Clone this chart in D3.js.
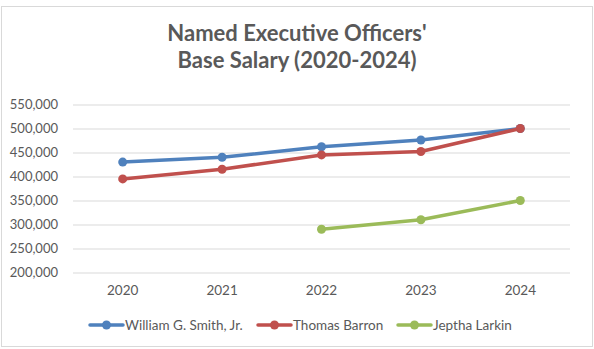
<!DOCTYPE html>
<html><head><meta charset="utf-8">
<script src="https://cdn.jsdelivr.net/npm/d3@7"></script>
<style>
html,body{margin:0;padding:0;background:#fff;}
text{font-family:Lato,"Open Sans",sans-serif;fill:#595959;}
</style></head>
<body><svg id="c" width="594" height="349"></svg>
<script>
const years = ["2020","2021","2022","2023","2024"];
const seriesNames = ["William G. Smith, Jr.","Thomas Barron","Jeptha Larkin"];
const smith = [430000,440000,462000,476000,500000];
const barron = [395000,415000,445000,452000,500000];
const larkin = [null,null,290000,310000,350000];
const colors = ["#4F81BD","#C0504D","#9BBB59"];
const yTicks = [200000,250000,300000,350000,400000,450000,500000,550000];
const titleLines = ["Named Executive Officers'","Base Salary (2020-2024)"];

const svg = d3.select("#c");
svg.append("rect").attr("x",1.5).attr("y",6.5).attr("width",591).attr("height",340)
  .attr("fill","#fff").attr("stroke","#d9d9d9").attr("stroke-width",1);

const x = d3.scaleBand().domain(years).range([73,570]);
const y = d3.scaleLinear().domain([200000,550000]).range([272.5,104.5]);

// title
svg.append("text").attr("x",297).attr("y",40.5).attr("text-anchor","middle")
  .style("font-size","22px").style("font-weight","bold").text(titleLines[0]);
svg.append("text").attr("x",297).attr("y",67.5).attr("text-anchor","middle")
  .style("font-size","22px").style("font-weight","bold").text(titleLines[1]);

// gridlines
const yAxis = d3.axisLeft(y).tickValues(yTicks).tickSize(-(570-73)).tickFormat(d3.format(","));
const gy = svg.append("g").attr("transform","translate(73,0)").call(yAxis);
gy.select(".domain").remove();
gy.selectAll(".tick line").attr("stroke","#d9d9d9").attr("stroke-width",1);
gy.selectAll(".tick text").attr("x",-15).style("font-size","13px").style("fill","#595959").style("font-family","Lato, sans-serif");

const xAxis = d3.axisBottom(x).tickSize(0).tickPadding(13);
const gx = svg.append("g").attr("transform","translate(0,272.5)").call(xAxis);
gx.select(".domain").remove();
gx.selectAll(".tick text").style("font-size","13.5px").style("fill","#595959").style("font-family","Lato, sans-serif");

const data = [smith,barron,larkin];
const line = d3.line().defined(d=>d.v!=null).x(d=>x(d.k)+x.bandwidth()/2).y(d=>y(d.v));
data.forEach((s,i)=>{
  const pts = years.map((k,j)=>({k,v:s[j]}));
  svg.append("path").datum(pts).attr("d",line).attr("fill","none")
    .attr("stroke",colors[i]).attr("stroke-width",3.5).attr("stroke-linejoin","round").attr("stroke-linecap","round");
  svg.selectAll(null).data(pts.filter(d=>d.v!=null)).enter().append("circle")
    .attr("cx",d=>x(d.k)+x.bandwidth()/2).attr("cy",d=>y(d.v)).attr("r",4.5).attr("fill",colors[i]);
});

// legend
const legX = [90,258,398];
seriesNames.forEach((n,i)=>{
  const g = svg.append("g").attr("transform",`translate(${legX[i]},325)`);
  g.append("line").attr("x1",0).attr("x2",33).attr("y1",0).attr("y2",0).attr("stroke",colors[i]).attr("stroke-width",3.5).attr("stroke-linecap","round");
  g.append("circle").attr("cx",16.5).attr("cy",0).attr("r",4.5).attr("fill",colors[i]);
  g.append("text").attr("x",35).attr("y",4.5).style("font-size","13.5px").text(n);
});
</script></body></html>
